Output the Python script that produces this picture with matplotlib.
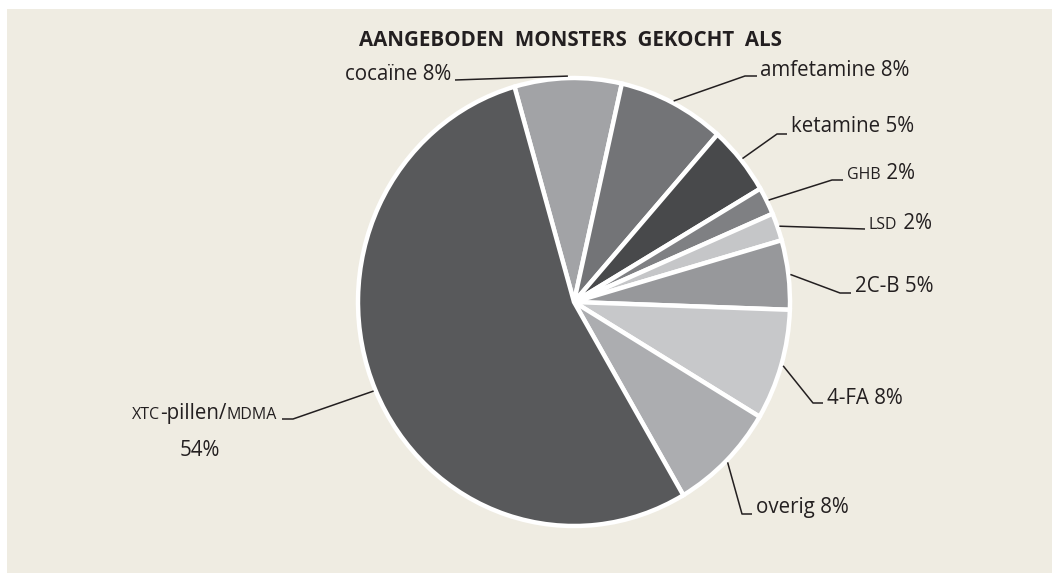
import matplotlib
matplotlib.use("Agg")
import matplotlib.pyplot as plt
from matplotlib.patches import Rectangle
from matplotlib.transforms import Affine2D
import numpy as np

# ---- data ----
labels = ["cocaïne", "amfetamine", "ketamine", "GHB", "LSD", "2C-B", "4-FA", "overig", "XTC-pillen/MDMA"]
values = [8, 8, 5, 2, 2, 5, 8, 8, 54]
colors = ["#a2a3a6", "#737477", "#48494b", "#7f8083", "#c5c6c8", "#97989b", "#c7c8ca", "#acadb0", "#58595b"]
title = "AANGEBODEN  MONSTERS  GEKOCHT  ALS"

W, H = 1052, 573
BG = "#efece2"
TXT = "#231f20"
FONT = "Open Sans"

fig = plt.figure(figsize=(W / 100, H / 100), dpi=100, facecolor="white")
ax = fig.add_axes([0, 0, 1, 1])

def Y(y):
    return H - y

cx, cy, RX, RY = 574, Y(302), 216, 224
wedges, _ = ax.pie(values, colors=colors, startangle=106, counterclock=False,
                   center=(0, 0), radius=1,
                   wedgeprops=dict(edgecolor="white", linewidth=3.2))
shape = Affine2D().scale(RX, RY).translate(cx, cy) + ax.transData
for w in wedges:
    w.set_transform(shape)
ax.add_patch(Rectangle((7, 0), W - 7, H - 9, facecolor=BG, edgecolor="none", zorder=-10))
ax.set_xlim(0, W)
ax.set_ylim(0, H)
ax.set_aspect("auto")
ax.axis("off")

ax.text(570, Y(40), title, ha="center", va="center", fontsize=14.8,
        fontweight="bold", color=TXT, family=FONT)

FS = 14.8
FS_SMALL = 11.5
renderer = fig.canvas.get_renderer()

def runs(x, ybase, parts, ha="left"):
    """Place text runs [(string, size)] on a common baseline."""
    arts = [ax.text(0, ybase, s, ha="left", va="baseline", fontsize=fs, color=TXT, family=FONT)
            for s, fs in parts]
    widths = [a.get_window_extent(renderer).width for a in arts]
    start = x - sum(widths) if ha == "right" else x
    for a, wd in zip(arts, widths):
        a.set_x(start)
        start += wd

# label layout: (elbow, line end, text pos, ha) in pixel coords
layout = {
    "cocaïne":   (None, (455, 80), (451, 75), "right"),
    "amfetamine": ((745, 76), (757, 76), (760, 70), "left"),
    "ketamine":  ((777, 134), (787, 134), (791, 127), "left"),
    "GHB":       ((832, 180), (843, 180), (847, 173), "left"),
    "LSD":       (None, (865, 229), (869, 223), "left"),
    "2C-B":      ((840, 293), (851, 293), (855, 286), "left"),
    "4-FA":      ((813, 403), (823, 403), (827, 398), "left"),
    "overig":    ((742, 514), (752, 514), (756, 508), "left"),
    "XTC-pillen/MDMA": ((293, 419), (282, 419), (277, 413), "right"),
}

for w, lab, v in zip(wedges, labels, values):
    ang = np.deg2rad((w.theta1 + w.theta2) / 2)
    ax_pt = (cx + (RX + 2) * np.cos(ang), cy + (RY + 2) * np.sin(ang))
    elbow, end, tpos, ha = layout[lab]
    pts = [ax_pt] + ([(elbow[0], Y(elbow[1]))] if elbow else []) + [(end[0], Y(end[1]))]
    xs, ys = zip(*pts)
    ax.plot(xs, ys, color=TXT, lw=1.1, solid_capstyle="butt", zorder=5)
    pct = f"{v}%"
    tx, ty = tpos[0], Y(tpos[1])
    if lab in ("GHB", "LSD"):
        runs(tx, ty - 6, [(lab, FS_SMALL), (" " + pct, FS)])
    elif lab == "XTC-pillen/MDMA":
        runs(tx, ty - 6, [("XTC", FS_SMALL), ("-pillen/", FS), ("MDMA", FS_SMALL)], ha="right")
        ax.text(200, Y(450), pct, ha="center", va="center", fontsize=FS, color=TXT, family=FONT)
    else:
        ax.text(tx, ty, f"{lab} {pct}", ha=ha, va="center", fontsize=FS, color=TXT, family=FONT)

fig.savefig("out.png", dpi=100, facecolor="white")
